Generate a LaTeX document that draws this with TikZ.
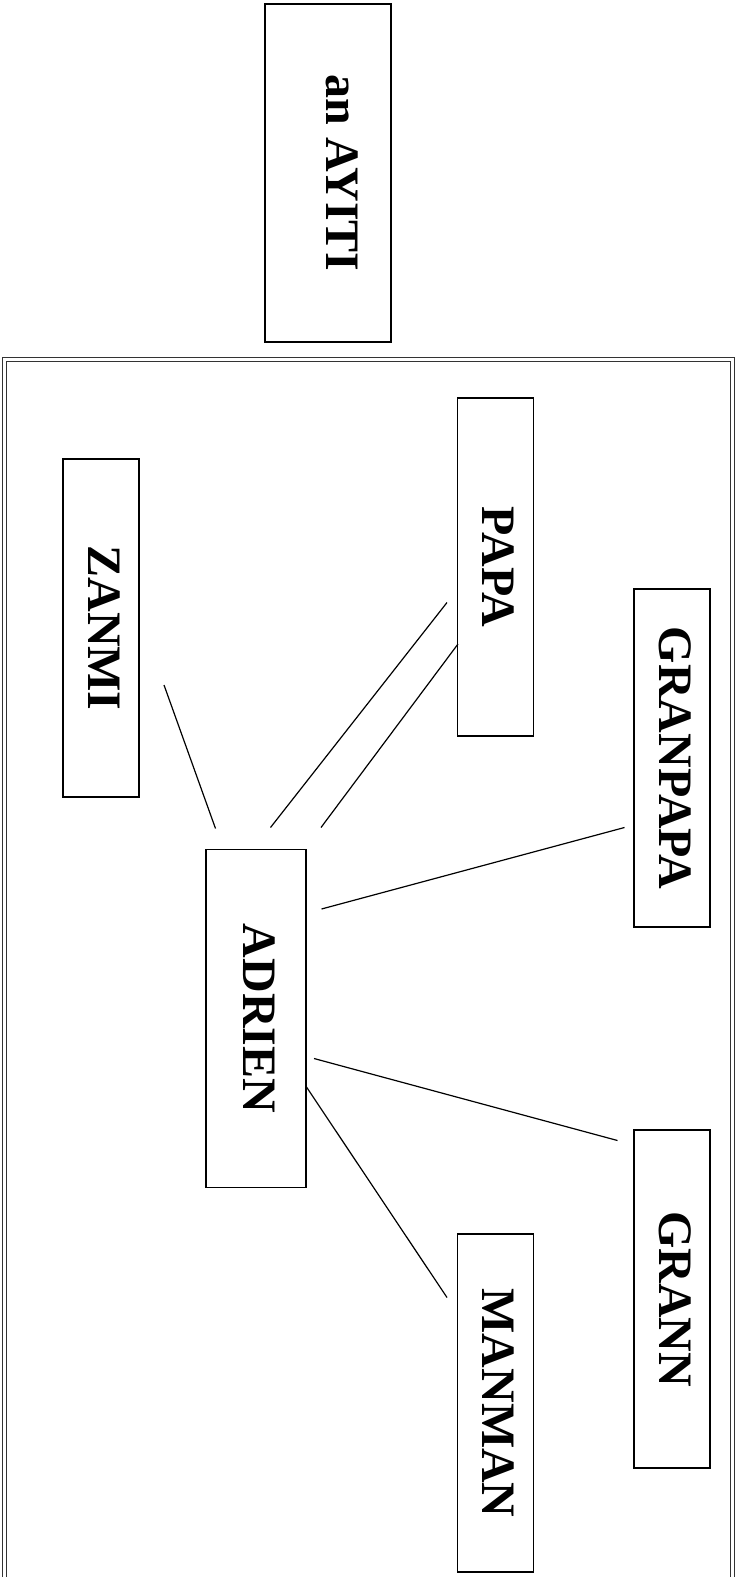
\documentclass[tikz,border=0pt]{standalone}
\usepackage{fontspec}
\setmainfont{Liberation Serif}
\usetikzlibrary{positioning}

\begin{document}
\begin{tikzpicture}[x=1pt,y=-1pt,-,line width=1.2pt]
	\tikzstyle{person}=[draw, rotate=-90, inner sep=0pt, minimum width=338pt, minimum height=76pt, text height=32pt, text depth=6pt, font=\fontsize{48}{56}\selectfont\bfseries]
	\clip (0,0) rectangle (737,1577);
	% frame
	\draw[double, double distance=3.4pt, line width=1.1pt, black!80] (4.5,359.5) rectangle (732.5,1620);

	\node[person, minimum height=126pt, text height=34pt, text depth=30pt] (AYITI) at (328,173) {an AYITI};
	\node[person] 			(ZANMI) at (101,628) {ZANMI};
	\node[person] 			(PAPA) at (495.5,567) {PAPA};
	\node[person] 			(GRANPAPA) at (672,758) {GRANPAPA};
	\node[person, minimum height=100pt] (ADRIEN) at (256,1018.5) {ADRIEN};
	\node[person] 			(GRANN) at (672,1299) {GRANN};
	\node[person] 			(MANMAN) at (495.5,1403) {MANMAN};

	\coordinate (z1) at (164,685);
	\coordinate (z2) at (215.5,828.5);
	\coordinate (p1) at (447,602.5);
	\coordinate (p2) at (270.5,827.5);
	\coordinate (p3) at (458,644);
	\coordinate (p4) at (321,827.5);
	\coordinate (g1) at (624.5,827.5);
	\coordinate (g2) at (321.5,909);
	\coordinate (gr1) at (314,1058.5);
	\coordinate (gr2) at (617.5,1140.5);
	\coordinate (m1) at (306.5,1087);
	\coordinate (m2) at (447,1297.5);

	\path
		(z1) edge (z2)
		(p1) edge (p2)
		(p3) edge (p4)
		(g1) edge (g2)
		(gr1) edge (gr2)
		%(ADRIEN) edge (MANMAN)
		(m1) edge (m2);
\end{tikzpicture}
\end{document}
